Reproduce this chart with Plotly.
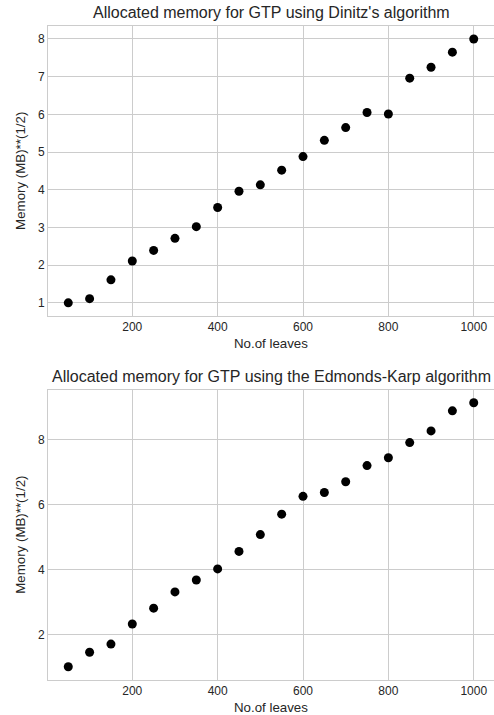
import plotly.graph_objects as go

leaves = [50, 100, 150, 200, 250, 300, 350, 400, 450, 500,
          550, 600, 650, 700, 750, 800, 850, 900, 950, 1000]
dinitz = [1.00, 1.11, 1.61, 2.11, 2.39, 2.71, 3.02, 3.53, 3.96, 4.13,
          4.52, 4.88, 5.31, 5.65, 6.05, 6.01, 6.96, 7.25, 7.65, 8.00]
edmonds_karp = [1.00, 1.45, 1.70, 2.32, 2.81, 3.31, 3.68, 4.02, 4.56, 5.08,
                5.71, 6.26, 6.38, 6.71, 7.21, 7.45, 7.92, 8.28, 8.90, 9.15]

titles = ["Allocated memory for GTP using Dinitz's algorithm",
          "Allocated memory for GTP using the Edmonds-Karp algorithm"]
x_label = "No.of leaves"
y_label = "Memory (MB)**(1/2)"

FONT = "Liberation Sans, Arial, sans-serif"
TXT = "#262626"
GRID = "#cccccc"
W, H = 494, 715

fig = go.Figure()
fig.add_trace(go.Scatter(x=leaves, y=dinitz, mode="markers",
                         marker=dict(color="black", size=9),
                         xaxis="x", yaxis="y", showlegend=False))
fig.add_trace(go.Scatter(x=leaves, y=edmonds_karp, mode="markers",
                         marker=dict(color="black", size=9),
                         xaxis="x2", yaxis="y2", showlegend=False))

def rng(vals):
    lo, hi = min(vals), max(vals)
    m = (hi - lo) * 0.05
    return [lo - m, hi + m]

xr = rng(leaves)
top_dom = [(H - 316) / H, (H - 25.8) / H]
bot_dom = [(H - 680) / H, (H - 389.5) / H]

axis_common = dict(showgrid=True, gridcolor=GRID, gridwidth=1, zeroline=False,
                   showline=True, linecolor=GRID, linewidth=1, mirror=True,
                   ticks="", tickfont=dict(family=FONT, size=12, color=TXT))

fig.update_layout(
    width=W, height=H,
    margin=dict(l=48, r=0, t=0, b=0),
    paper_bgcolor="white", plot_bgcolor="white",
    font=dict(family=FONT, color=TXT),
    xaxis=dict(domain=[0, 1], range=xr, dtick=200, tick0=0, anchor="y", **axis_common),
    yaxis=dict(domain=top_dom, range=rng(dinitz), dtick=1, tick0=0, anchor="x", **axis_common),
    xaxis2=dict(domain=[0, 1], range=xr, dtick=200, tick0=0, anchor="y2", **axis_common),
    yaxis2=dict(domain=bot_dom, range=rng(edmonds_karp), dtick=2, tick0=0, anchor="x2", **axis_common),
)

ann = []
for i, (dom, title) in enumerate([(top_dom, titles[0]), (bot_dom, titles[1])]):
    top_px = H - dom[1] * H
    bot_px = H - dom[0] * H
    ann.append(dict(text=title, xref="paper", yref="paper", x=0.5, xanchor="center",
                    y=1 - (top_px - 13) / H, yanchor="middle", showarrow=False,
                    font=dict(family=FONT, size=16, color=TXT)))
    ann.append(dict(text=x_label, xref="paper", yref="paper", x=0.5, xanchor="center",
                    y=1 - (bot_px + 27.5) / H, yanchor="middle", showarrow=False,
                    font=dict(family=FONT, size=13.3, color=TXT)))
    ann.append(dict(text=y_label, xref="paper", yref="paper", x=(21 - 48) / (W - 48),
                    xanchor="center", y=(dom[0] + dom[1]) / 2, yanchor="middle",
                    textangle=-90, showarrow=False,
                    font=dict(family=FONT, size=13.3, color=TXT)))
fig.update_layout(annotations=ann)

fig.write_html("out.html",
               config={"displayModeBar": False},
               post_script="document.body.style.margin='0px';"
                           "document.body.style.overflow='hidden';")
